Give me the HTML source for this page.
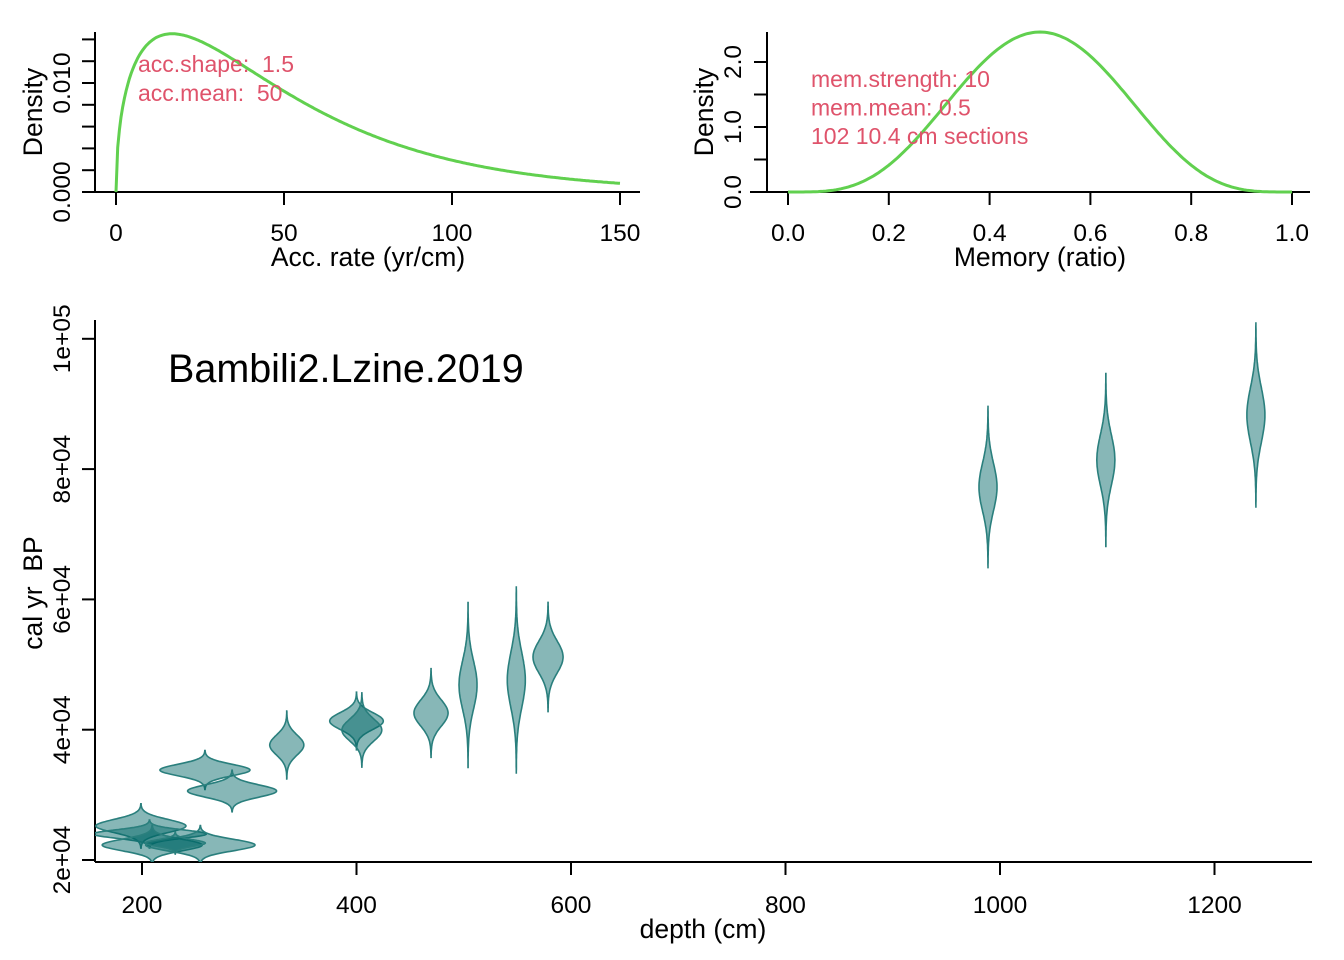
<!DOCTYPE html>
<html><head><meta charset="utf-8"><style>
body{margin:0;background:#fff}
svg{display:block;font-family:"Liberation Sans",Arial,sans-serif}
text{white-space:pre}
</style></head><body>
<svg id="chart" width="1344" height="960" viewBox="0 0 1344 960">
<defs><clipPath id="mainClip"><rect x="95" y="318" width="1218" height="544"/></clipPath></defs>
<g id="accPanel"></g>
<g id="memPanel"></g>
<g id="mainPanel"></g>
</svg>
<script>
const accShape = 1.5, accMean = 50;
const memStrength = 10, memMean = 0.5;
const accTicksX = [0, 50, 100, 150];
const accTicksY = [0, 0.002, 0.004, 0.006, 0.008, 0.010, 0.012, 0.014];
const accLabelsY = [0, 0.010];
const memTicksX = [0, 0.2, 0.4, 0.6, 0.8, 1.0];
const memTicksY = [0, 0.5, 1.0, 1.5, 2.0];
const memLabelsY = [0, 1.0, 2.0];
const depthTicks = [200, 400, 600, 800, 1000, 1200];
const ageTicks = [20000, 40000, 60000, 80000, 100000];
const ageTickLabels = ["2e+04", "4e+04", "6e+04", "8e+04", "1e+05"];
// date violins
const vDepth = [258.7, 284, 199, 207, 209.5, 254.4, 231, 335, 400, 405, 469.5, 504, 549, 578.6, 988.8, 1098.7, 1238.6];
const vAge = [33810, 30590, 25220, 23990, 22300, 22300, 22600, 37650, 41330, 39950, 42560, 46860, 47630, 51160, 77250, 81400, 88300];
const vAgeSd = [880, 940, 1000, 630, 880, 880, 500, 1535, 1300, 1675, 2000, 3720, 4230, 2465, 3675, 3900, 4190];
const vWidthCm = [42, 41.5, 42, 53, 46.6, 51, 28, 15.9, 25, 18.6, 15.9, 8.4, 8.4, 14, 8.4, 8.4, 8.4];

const NS = "http://www.w3.org/2000/svg";
function mk(tag, attrs, parent, text) {
  const e = document.createElementNS(NS, tag);
  for (const k in attrs) e.setAttribute(k, attrs[k]);
  if (text !== undefined) e.textContent = text;
  parent.appendChild(e);
  return e;
}
function gammaFn(z){
  const g=7,c=[0.99999999999980993,676.5203681218851,-1259.1392167224028,771.32342877765313,-176.61502916214059,12.507343278686905,-0.13857109526572012,9.9843695780195716e-6,1.5056327351493116e-7];
  if(z<0.5) return Math.PI/(Math.sin(Math.PI*z)*gammaFn(1-z));
  z-=1; let x=c[0]; for(let i=1;i<g+2;i++) x+=c[i]/(z+i);
  const t=z+g+0.5; return Math.sqrt(2*Math.PI)*Math.pow(t,z+0.5)*Math.exp(-t)*x;
}
const GREEN="#61D04F", RED="#DF536B", FS=24.5, TFS=26.5;

(function(){
  const p=document.getElementById('accPanel');
  const X=v=>116+v*(504/150), Y=v=>192-v*10900;
  const ax=mk('path',{d:'M95,192H640M95,32V192',stroke:'#000','stroke-width':2,fill:'none'},p);
  
  
  accTicksX.forEach(v=>{
    const t=mk('line',{x1:X(v),x2:X(v),y1:192,y2:205,stroke:'#000','stroke-width':2},p);
     
    const l=mk('text',{x:X(v),y:241,'text-anchor':'middle','font-size':FS},p,String(v));
     
  });
  accTicksY.forEach(v=>{
    const t=mk('line',{x1:82,x2:95,y1:Y(v),y2:Y(v),stroke:'#000','stroke-width':2},p);
     
  });
  accLabelsY.forEach(v=>{
    const l=mk('text',{x:0,y:0,transform:`translate(70,${Y(v)}) rotate(-90)`,'text-anchor':'middle','font-size':FS},p,v.toFixed(3));
     
  });
  const th=accMean/accShape, norm=gammaFn(accShape)*Math.pow(th,accShape);
  let d='';
  for(let i=0;i<=300;i++){const x=i*0.5; const y=x===0?0:Math.pow(x,accShape-1)*Math.exp(-x/th)/norm; d+=(i?'L':'M')+X(x).toFixed(1)+','+Y(y).toFixed(1);}
  const c=mk('path',{d,stroke:GREEN,'stroke-width':3,fill:'none'},p);
   
  const a=mk('text',{x:0,y:0,transform:'translate(42,112) rotate(-90)','text-anchor':'middle','font-size':TFS},p,'Density');
   
  const xt=mk('text',{x:368,y:266,'text-anchor':'middle','font-size':TFS},p,'Acc. rate (yr/cm)');
   
  const t1=mk('text',{x:138,y:72,fill:RED,'font-size':23},p,'acc.shape:  1.5');
   
  const t2=mk('text',{x:138,y:101,fill:RED,'font-size':23},p,'acc.mean:  50');
   
})();

(function(){
  const p=document.getElementById('memPanel');
  const X=v=>788+v*504, Y=v=>192-v*65;
  const ax=mk('path',{d:'M750,192H1310M767,32V192',stroke:'#000','stroke-width':2,fill:'none'},p);
   
  memTicksX.forEach(v=>{
    const t=mk('line',{x1:X(v),x2:X(v),y1:192,y2:205,stroke:'#000','stroke-width':2},p);
     
    const l=mk('text',{x:X(v),y:241,'text-anchor':'middle','font-size':FS},p,v.toFixed(1));
     
  });
  memTicksY.forEach(v=>{
    const t=mk('line',{x1:754,x2:767,y1:Y(v),y2:Y(v),stroke:'#000','stroke-width':2},p);
     
  });
  memLabelsY.forEach(v=>{
    const l=mk('text',{x:0,y:0,transform:`translate(741,${Y(v)}) rotate(-90)`,'text-anchor':'middle','font-size':FS},p,v.toFixed(1));
     
  });
  const a=memStrength*memMean, b=memStrength*(1-memMean);
  const B=gammaFn(a)*gammaFn(b)/gammaFn(a+b);
  let d='';
  for(let i=0;i<=200;i++){const x=i/200; const y=Math.pow(x,a-1)*Math.pow(1-x,b-1)/B; d+=(i?'L':'M')+X(x).toFixed(1)+','+Y(y).toFixed(1);}
  const c=mk('path',{d,stroke:GREEN,'stroke-width':3,fill:'none'},p);
   
  const yt=mk('text',{x:0,y:0,transform:'translate(713,112) rotate(-90)','text-anchor':'middle','font-size':TFS},p,'Density');
   
  const xt=mk('text',{x:1040,y:266,'text-anchor':'middle','font-size':TFS},p,'Memory (ratio)');
   
  ['mem.strength: 10','mem.mean: 0.5','102 10.4 cm sections'].forEach((s,i)=>{
    const t=mk('text',{x:811,y:87+i*28.5,fill:RED,'font-size':23},p,s);
     
  });
})();

(function(){
  const p=document.getElementById('mainPanel');
  const X=d=>142+(d-200)*1.0725, Y=a=>860-(a-20000)*0.006515;
  const ax=mk('path',{d:'M95,862H1312M95,320V862',stroke:'#000','stroke-width':2,fill:'none'},p);
   
  depthTicks.forEach(v=>{
    const t=mk('line',{x1:X(v),x2:X(v),y1:862,y2:875,stroke:'#000','stroke-width':2},p);
     
    const l=mk('text',{x:X(v),y:913,'text-anchor':'middle','font-size':FS},p,String(v));
     
  });
  ageTicks.forEach((v,i)=>{
    const t=mk('line',{x1:82,x2:95,y1:Y(v),y2:Y(v),stroke:'#000','stroke-width':2},p);
     
    const l=mk('text',{x:0,y:0,transform:`translate(70,${Y(v)}) rotate(-90)`,'text-anchor':'middle','font-size':FS},p,ageTickLabels[i]);
     
  });
  const xt=mk('text',{x:703,y:938,'text-anchor':'middle','font-size':TFS},p,'depth (cm)');
   
  const yt=mk('text',{x:0,y:0,transform:'translate(42,593) rotate(-90)','text-anchor':'middle','font-size':TFS},p,'cal yr  BP');
   
  const ti=mk('text',{x:168,y:382,'font-size':39.5},p,'Bambili2.Lzine.2019');
   
  const g=mk('g',{'clip-path':'url(#mainClip)'},p);
   
  const T=3.4, N=80;
  function shape(pts){return 'M'+pts.map(q=>q[0].toFixed(1)+','+q[1].toFixed(1)).join('L')+'Z';}
  vDepth.forEach((d,i)=>{
    const l=[],r=[];
    for(let k=0;k<=N;k++){const t=-T+2*T*k/N; const w=vWidthCm[i]*Math.exp(-t*t/2);
      l.push([X(d-w),Y(vAge[i]+t*vAgeSd[i])]); r.unshift([X(d+w),Y(vAge[i]+t*vAgeSd[i])]);}
    const e=mk('path',{d:shape(l.concat(r)),fill:'rgb(0,102,102)','fill-opacity':0.47,stroke:'#2a7f7d','stroke-width':1.6},g);
     
  });
})();
</script>
</body></html>
